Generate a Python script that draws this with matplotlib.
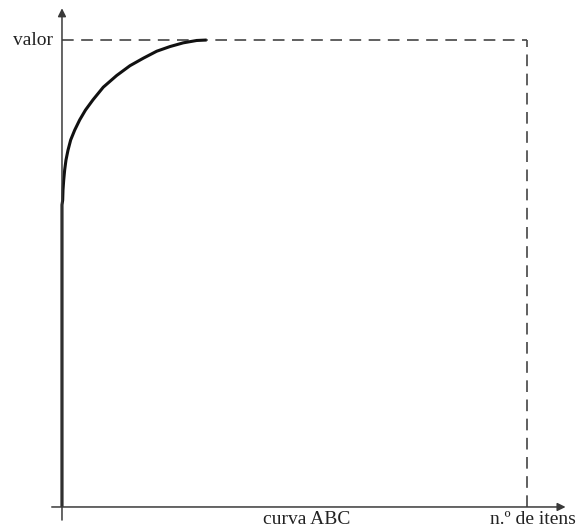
import matplotlib
matplotlib.use("Agg")
import matplotlib.pyplot as plt

# curva ABC: % acumulado de itens (x) vs % acumulado de valor (y)
itens_pct = [0, 0, 0.15, 0.22, 0.37, 0.58, 0.86, 1.29, 1.87, 2.73, 3.81, 5.05,
             6.67, 8.88, 11.76, 14.62, 17.48, 20.37, 23.23, 26.09, 28.97, 31.12]
valor_pct = [0, 64.7, 65.7, 67.9, 70.0, 72.2, 74.3, 76.4, 78.6, 80.7, 82.9, 85.0,
             87.2, 89.9, 92.4, 94.5, 96.1, 97.6, 98.6, 99.4, 99.9, 100]

x_total = 100
y_total = 100

rotulo_y = "valor"
rotulo_x = "n.º de itens"
titulo = "curva ABC"

plt.rcParams['font.family'] = ['Liberation Serif', 'DejaVu Serif']

fig = plt.figure(figsize=(5.78, 5.30), dpi=100)
ax = fig.add_axes([0, 0, 1, 1])
ax.set_xlim(-13.33, 110.97)
ax.set_ylim(-4.93, 108.57)
ax.axis('off')

cor_eixo = '#3a3a3a'

# eixos com setas
ax.annotate('', xy=(108.3, 0), xytext=(-2.2, 0),
            arrowprops=dict(arrowstyle='-|>', color=cor_eixo, lw=1.1,
                            mutation_scale=12, shrinkA=0, shrinkB=0))
ax.annotate('', xy=(0, 106.8), xytext=(0, -2.8),
            arrowprops=dict(arrowstyle='-|>', color=cor_eixo, lw=1.1,
                            mutation_scale=12, shrinkA=0, shrinkB=0))

# linhas tracejadas de referência
ax.plot([0, x_total], [y_total, y_total], ls=(0, (7, 4.5)), color='#444444', lw=1.2)
ax.plot([x_total, x_total], [0, y_total], ls=(0, (7, 4.5)), color='#444444', lw=1.2)

# curva
ax.plot(itens_pct, valor_pct, color='#111111', lw=2.2, solid_capstyle='butt',
        solid_joinstyle='round')

# textos
ax.text(-1.9, y_total, rotulo_y, ha='right', va='center', fontsize=14, color='#222222')
ax.text(52.7, -2.7, titulo, ha='center', va='center', fontsize=14, color='#222222')
ax.text(92.0, -2.7, rotulo_x, ha='left', va='center', fontsize=14, color='#222222')

fig.savefig('out.png', dpi=100, facecolor='white')
